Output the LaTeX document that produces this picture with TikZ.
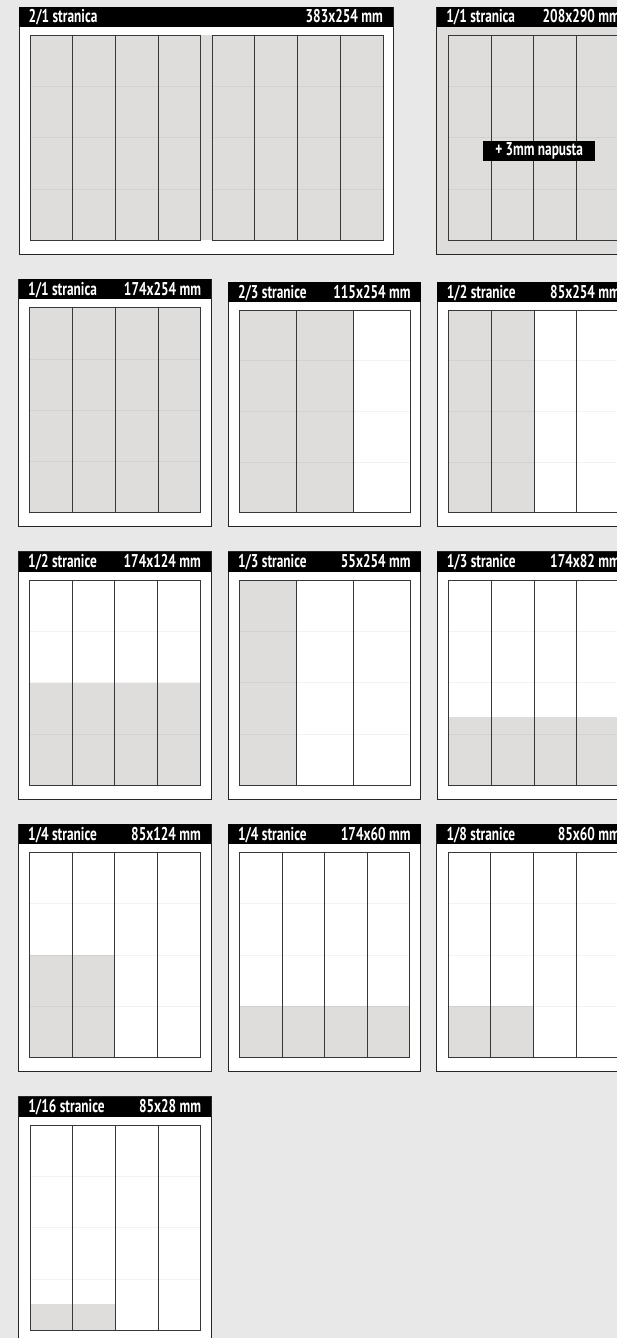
\documentclass[tikz,border=0pt]{standalone}
\usepackage{fontspec}
\newfontfamily\hdrfont{PT Sans}[FakeStretch=0.72, BoldFont={PT Sans Bold}]
\definecolor{bgc}{RGB}{232,232,232}
\definecolor{adgray}{RGB}{222,221,219}
\definecolor{gridc}{RGB}{55,55,55}
\tikzset{
  boxline/.style={draw=black!85, line width=0.8pt},
  hdrtxt/.style={text=white, font=\hdrfont\bfseries\fontsize{18.5}{20}\selectfont, inner sep=0pt},
  colline/.style={draw=gridc, line width=0.75pt},
  faint/.style={draw=black, draw opacity=0.05, line width=0.5pt},
  tagbox/.style={fill=black, text=white, font=\hdrfont\bfseries\fontsize{18.5}{20}\selectfont,
    minimum width=111.7pt, minimum height=20.6pt, inner sep=0pt},
}
% #1 name, #2 L, #3 R, #4 header top, #5 header bottom, #6 box bottom, #7 left text, #8 right text, #9 box fill
\newcommand\adbox[9]{%
  \draw[boxline, fill=#9] (#2,#4) rectangle (#3,#6);
  \fill[black] (#2,#4) rectangle (#3,#5);
  \node[hdrtxt, anchor=base west] (#1l) at (#2+9.5,#5-4) {#7};
  \node[hdrtxt, anchor=base east] (#1r) at (#3-10,#5-4) {#8};
}
% #1 IL, #2 IR, #3 IT, #4 IB, #5 n columns, #6 n-1
\newcommand\adgrid[6]{%
  \pgfmathsetmacro\cw{(#2-#1)/#5}
  \pgfmathsetmacro\rh{(#4-#3)/4}
  \foreach \j in {1,2,3}{\draw[faint] (#1,#3+\j*\rh) -- (#2,#3+\j*\rh);}
  \foreach \k in {1,...,#6}{\draw[colline] (#1+\k*\cw,#3) -- (#1+\k*\cw,#4);}
  \draw[colline] (#1,#3) rectangle (#2,#4);
}
\begin{document}
\begin{tikzpicture}[x=1pt,y=-1pt]
\useasboundingbox (0,0) rectangle (617,1338);
\clip (0,0) rectangle (617,1338);
\fill[bgc] (0,0) rectangle (617,1338);

% Row 1
\adbox{pa}{19}{393}{7.3}{27}{254.7}{2/1 stranica}{383x254 mm}{white}
\fill[adgray] (30,35) rectangle (383,240);
\adgrid{30}{200.7}{35}{240}{4}{3}
\adgrid{212}{383}{35}{240}{4}{3}

\adbox{pb}{436.7}{630}{7.3}{27}{254.7}{1/1 stranica}{208x290 mm}{adgray}
\adgrid{448.3}{619.3}{35}{240}{4}{3}
\node[tagbox] (bleed) at (539.2,151) {+\,3mm napusta};

% Row 2
\adbox{pc}{18.5}{211.3}{279.3}{299.3}{526.7}{1/1 stranica}{174x254 mm}{white}
\fill[adgray] (29.5,307.7) rectangle (200.7,512.7);
\adgrid{29.5}{200.7}{307.7}{512.7}{4}{3}

\adbox{pd}{228.3}{420.7}{282.3}{302}{526.7}{2/3 stranice}{115x254 mm}{white}
\fill[adgray] (239,310) rectangle (353,512.7);
\adgrid{239}{410}{310}{512.7}{3}{2}

\adbox{pe}{437.2}{630}{282.3}{302}{526.7}{1/2 stranice}{85x254 mm}{white}
\fill[adgray] (448.6,310) rectangle (534,512.7);
\adgrid{448.6}{619.6}{310}{512.7}{4}{3}

% Row 3
\adbox{pf}{18.5}{211}{551.7}{571.7}{799.3}{1/2 stranice}{174x124 mm}{white}
\fill[adgray] (29.3,683) rectangle (200.3,785.3);
\adgrid{29.3}{200.3}{580}{785.3}{4}{3}

\adbox{pg}{228.3}{420.7}{551.7}{571.7}{799.3}{1/3 stranice}{55x254 mm}{white}
\fill[adgray] (239,580) rectangle (296,785.3);
\adgrid{239}{410}{580}{785.3}{3}{2}

\adbox{ph}{437.2}{630}{551.7}{571.7}{799.3}{1/3 stranice}{174x82 mm}{white}
\fill[adgray] (448.6,717) rectangle (619.6,785.3);
\adgrid{448.6}{619.6}{580}{785.3}{4}{3}

% Row 4
\adbox{pi}{18.5}{211}{824.3}{844.3}{1071.7}{1/4 stranice}{85x124 mm}{white}
\fill[adgray] (29.3,955) rectangle (114.8,1057.7);
\adgrid{29.3}{200.3}{852.3}{1057.7}{4}{3}

\adbox{pj}{228.3}{420.7}{824.3}{844.3}{1071.7}{1/4 stranice}{174x60 mm}{white}
\fill[adgray] (239.3,1006.3) rectangle (409.7,1057.7);
\adgrid{239.3}{409.7}{852.3}{1057.7}{4}{3}

\adbox{pk}{436.8}{630}{824.3}{844.3}{1071.7}{1/8 stranice}{85x60 mm}{white}
\fill[adgray] (447.9,1006.3) rectangle (533.3,1057.7);
\adgrid{447.9}{618.9}{852.3}{1057.7}{4}{3}

% Row 5
\adbox{pl}{18.7}{211.3}{1096.7}{1116.7}{1350}{1/16 stranice}{85x28 mm}{white}
\fill[adgray] (30.2,1304) rectangle (115.5,1330);
\adgrid{30.2}{200.7}{1125}{1330}{4}{3}
\end{tikzpicture}
\end{document}
